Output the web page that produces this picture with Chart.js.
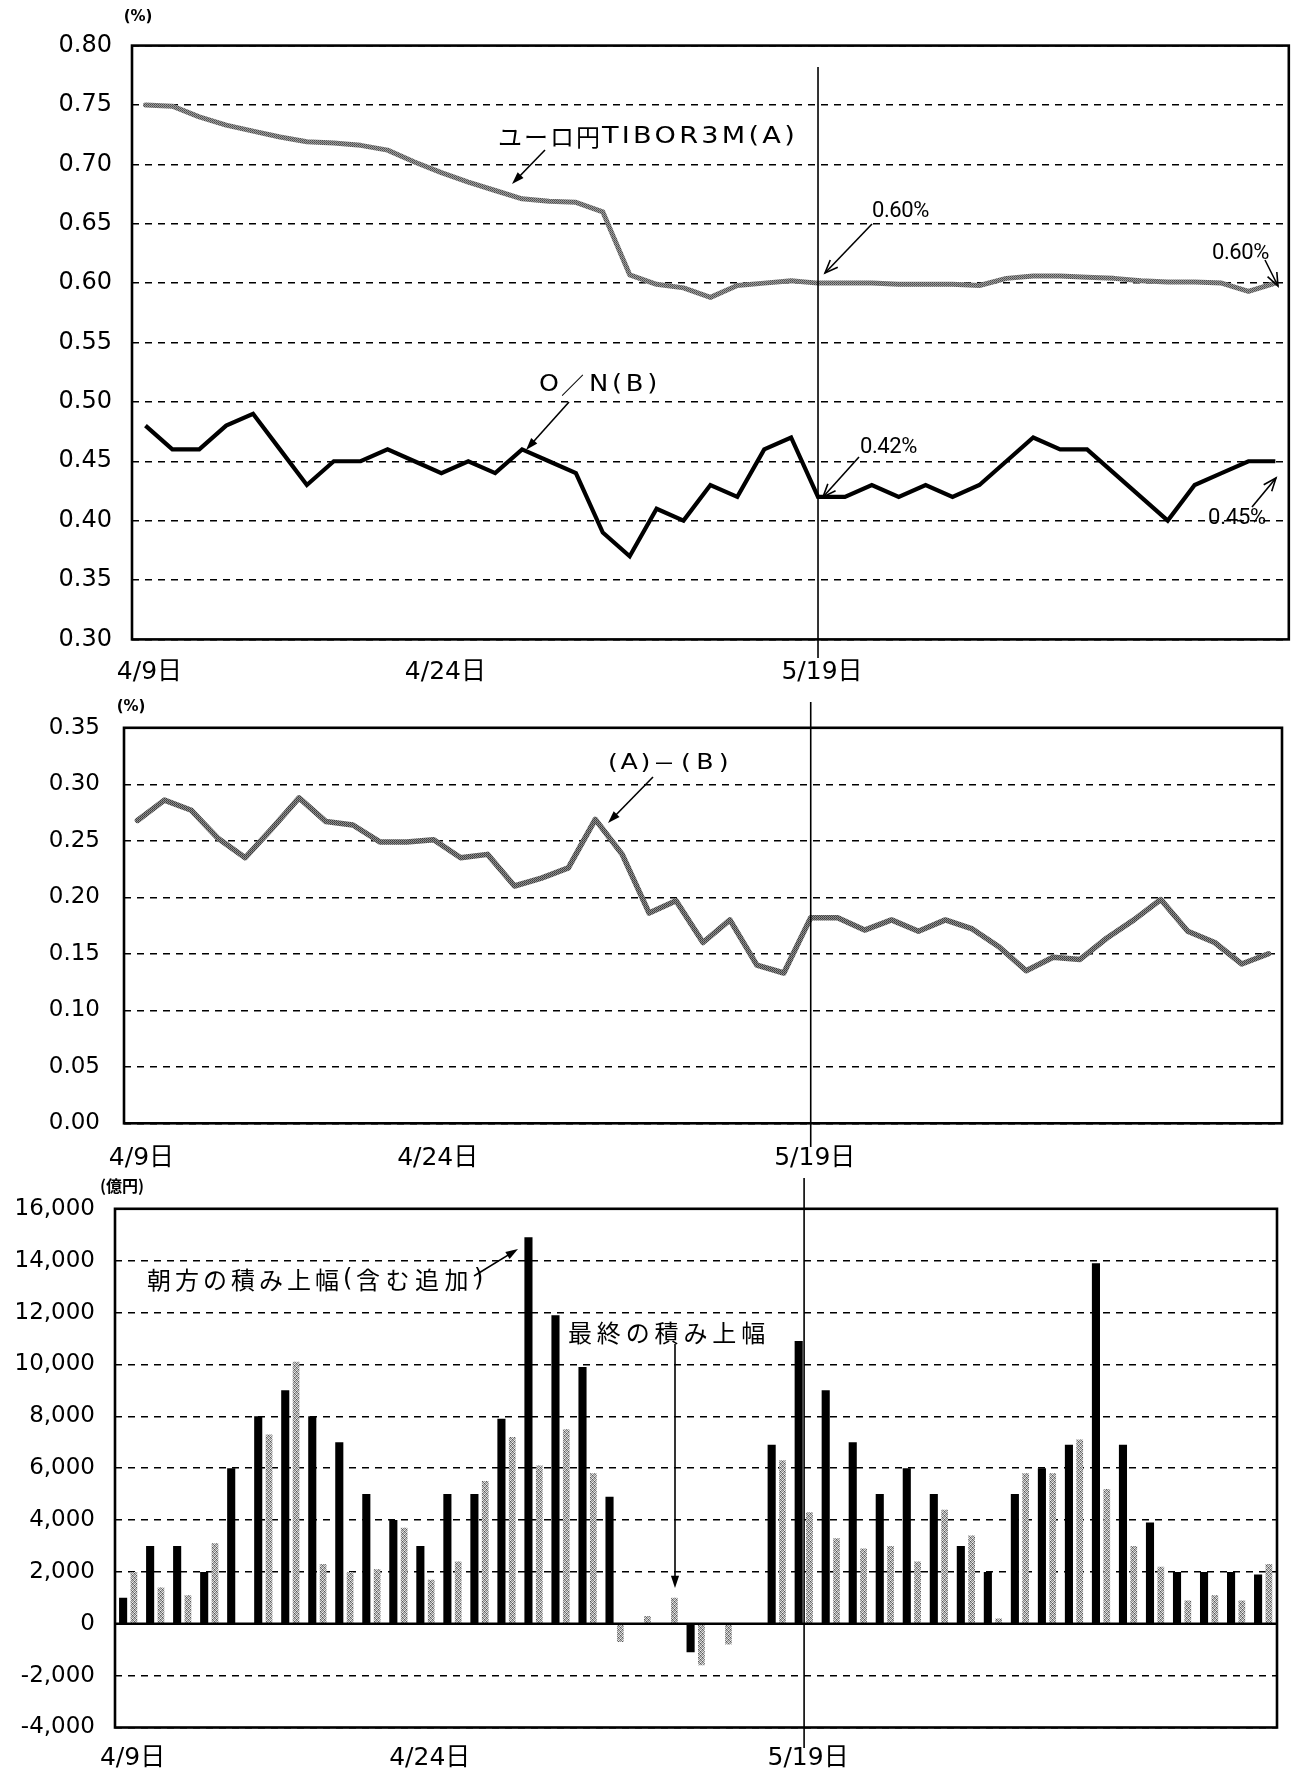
<!DOCTYPE html>
<html lang="ja">
<head>
<meta charset="utf-8">
<title>ユーロ円TIBOR・O/N・積み上幅</title>
<script src="https://cdn.jsdelivr.net/npm/chart.js@4.4.1/dist/chart.umd.min.js"></script>
<style>
  html, body { margin: 0; padding: 0; background: #fff; }
  body { width: 1293px; height: 1775px; position: relative; overflow: hidden; }
  canvas { position: absolute; left: 0; }
</style>
</head>
<body>
<canvas id="rates" width="1293" height="690" style="top:0px"></canvas>
<canvas id="spread" width="1293" height="485" style="top:690px"></canvas>
<canvas id="reserves" width="1293" height="600" style="top:1175px"></canvas>
<script>
// Business days on the horizontal axis
const days = ['4/9','4/10','4/13','4/14','4/15','4/16','4/17','4/20','4/21','4/22','4/23','4/24',
  '4/27','4/28','4/30','5/1','5/6','5/7','5/8','5/11','5/12','5/13','5/14','5/15','5/18','5/19',
  '5/20','5/21','5/22','5/25','5/26','5/27','5/28','5/29','6/1','6/2','6/3','6/4','6/5','6/8',
  '6/9','6/10','6/11'];
// Days that carry a tick label, and the day marked with a vertical rule
const labelledDays = ['4/9', '4/24', '5/19'];
const markedDay = '5/19';

// Euro-yen TIBOR 3M (A), %
const tibor3m = [0.750,0.749,0.740,0.733,0.728,0.723,0.719,0.718,0.716,0.712,0.702,0.693,
  0.685,0.678,0.671,0.669,0.668,0.660,0.607,0.599,0.596,0.588,0.598,0.600,0.602,0.600,
  0.600,0.600,0.599,0.599,0.599,0.598,0.604,0.606,0.606,0.605,0.604,0.602,0.601,0.601,
  0.600,0.593,0.600];
// Overnight call rate (B), %
const overnight = [0.48,0.46,0.46,0.48,0.49,0.46,0.43,0.45,0.45,0.46,0.45,0.44,
  0.45,0.44,0.46,0.45,0.44,0.39,0.37,0.41,0.40,0.43,0.42,0.46,0.47,0.42,
  0.42,0.43,0.42,0.43,0.42,0.43,0.45,0.47,0.46,0.46,0.44,0.42,0.40,0.43,
  0.44,0.45,0.45];
// (A)-(B), %
const spreadAB = [0.268,0.286,0.277,0.252,0.235,0.261,0.288,0.267,0.264,0.249,0.249,0.251,
  0.235,0.238,0.210,0.217,0.226,0.269,0.238,0.186,0.197,0.160,0.180,0.140,0.133,0.182,
  0.182,0.171,0.180,0.170,0.180,0.172,0.156,0.135,0.147,0.145,0.164,0.180,0.198,0.170,
  0.160,0.141,0.150];
// Reserve surplus, 100 million yen: morning (incl. additions) and final
const morningSurplus = [1000,3000,3000,2000,6000,8000,9000,8000,7000,5000,4000,3000,
  5000,5000,7900,14900,11900,9900,4900,0,0,-1100,0,0,6900,10900,
  9000,7000,5000,6000,5000,3000,2000,5000,6000,6900,13900,6900,3900,2000,
  2000,2000,1900];
const finalSurplus = [2000,1400,1100,3100,0,7300,10100,2300,2000,2100,3700,1700,
  2400,5500,7200,6100,7500,5800,-700,300,1000,-1600,-800,0,6300,4300,
  3300,2900,3000,2400,4400,3400,200,5800,5800,7100,5200,3000,2200,900,
  1100,900,2300];

const NUM_FONT = '"DejaVu Sans", "Noto Sans CJK JP", sans-serif';
const JP_FONT = '"Noto Sans CJK JP", sans-serif';
const LATIN_FONT = '"DejaVu Sans", sans-serif';
const PCT_FONT = 'Roboto, "Liberation Sans", sans-serif';

Chart.defaults.color = '#000';
Chart.defaults.font.family = NUM_FONT;
Chart.defaults.animation = false;

// Small ordered-dither tiles that give the grey marks their printed texture
function dither(cells, size) {
  const c = document.createElement('canvas');
  c.width = size; c.height = size;
  const g = c.getContext('2d');
  cells.forEach((col, i) => { g.fillStyle = col; g.fillRect(i % size, Math.floor(i / size), 1, 1); });
  return g.createPattern(c, 'repeat');
}
const barTone = dither(['#555','#ccc','#999','#ddd','#bbb','#777','#eee','#888',
                        '#999','#ddd','#555','#ccc','#eee','#888','#bbb','#777'], 4);
const tiborTone = dither(['#4a4a4a','#a0a0a0','#979797','#606060'], 2);
const spreadTone = dither(['#3a3a3a','#959595','#858585','#4c4c4c'], 2);

function xAxis(height, padding) {
  return {
    type: 'category',
    offset: true,
    grid: { display: false, drawTicks: false },
    border: { display: false },
    ticks: {
      autoSkip: false, maxRotation: 0, minRotation: 0, padding, labelOffset: 4,
      font: { size: 25 },
      callback(value, index) {
        const d = days[index];
        return labelledDays.includes(d) ? d + '日' : '';
      }
    },
    afterFit(s) { s.height = height; }
  };
}

function yAxis(min, max, step, width, padding, size, format, hideZero) {
  return {
    min, max,
    ticks: { stepSize: step, padding, font: { size }, callback: format },
    grid: {
      drawTicks: false, lineWidth: 1.4,
      color: ctx => (hideZero && ctx.tick && ctx.tick.value === 0) ? 'rgba(0,0,0,0)' : '#000'
    },
    border: { display: false, dash: [7, 6] },
    afterFit(s) { s.width = width; }
  };
}

function arrow(ctx, x1, y1, x2, y2, filled) {
  const a = Math.atan2(y2 - y1, x2 - x1);
  const len = filled ? 13 : 14, spread = filled ? 0.32 : 0.38;
  ctx.save();
  ctx.strokeStyle = '#000'; ctx.fillStyle = '#000'; ctx.lineWidth = 1.6;
  ctx.beginPath(); ctx.moveTo(x1, y1);
  ctx.lineTo(filled ? x2 - Math.cos(a) * 6 : x2, filled ? y2 - Math.sin(a) * 6 : y2);
  ctx.stroke();
  const lx = x2 - len * Math.cos(a - spread), ly = y2 - len * Math.sin(a - spread);
  const rx = x2 - len * Math.cos(a + spread), ry = y2 - len * Math.sin(a + spread);
  ctx.beginPath();
  if (filled) {
    ctx.moveTo(x2, y2); ctx.lineTo(lx, ly); ctx.lineTo(rx, ry); ctx.closePath(); ctx.fill();
  } else {
    ctx.moveTo(lx, ly); ctx.lineTo(x2, y2); ctx.lineTo(rx, ry); ctx.stroke();
  }
  ctx.restore();
}

// Text made of runs; each run has its own font, horizontal stretch and run length
function runs(ctx, parts, x, y) {
  ctx.save();
  ctx.fillStyle = '#000'; ctx.textAlign = 'left'; ctx.textBaseline = 'middle';
  let cx = x;
  parts.forEach(p => {
    const sx = p.stretch || 1;
    const n = [...p.text].length;
    ctx.font = p.font; ctx.letterSpacing = '0px';
    const natural = ctx.measureText(p.text).width * sx;
    const gap = n > 0 ? (p.width - natural) / n : 0;
    ctx.save();
    ctx.translate(cx, y);
    ctx.scale(sx, 1);
    ctx.letterSpacing = (gap / sx).toFixed(2) + 'px';
    ctx.fillText(p.text, 0, 0);
    ctx.restore();
    cx += p.width;
  });
  ctx.restore();
}

function plainText(ctx, text, x, y, font) {
  ctx.save();
  ctx.font = font; ctx.fillStyle = '#000';
  ctx.textAlign = 'center'; ctx.textBaseline = 'middle';
  ctx.fillText(text, x, y);
  ctx.restore();
}

// Frame, optional zero line, the marked-day rule and the chart's notes
function decor(opts) {
  return {
    id: 'decor',
    afterDatasetsDraw(chart) {
      const { ctx, chartArea: a, scales } = chart;
      ctx.save();
      if (opts.zeroLine) {
        const y0 = scales.y.getPixelForValue(0);
        ctx.strokeStyle = '#000'; ctx.lineWidth = 2.4;
        ctx.beginPath(); ctx.moveTo(a.left, y0); ctx.lineTo(a.right, y0); ctx.stroke();
      }
      ctx.strokeStyle = '#000'; ctx.lineWidth = 2.6;
      ctx.strokeRect(a.left, a.top, a.right - a.left, a.bottom - a.top);
      const xm = scales.x.getPixelForValue(days.indexOf(markedDay));
      ctx.lineWidth = 1.6;
      ctx.beginPath(); ctx.moveTo(xm, opts.rule[0]); ctx.lineTo(xm, opts.rule[1]); ctx.stroke();
      ctx.restore();
    },
    afterDraw(chart) { opts.notes(chart.ctx, chart); }
  };
}

// ---- Upper panel: TIBOR 3M and O/N ----
new Chart(document.getElementById('rates'), {
  type: 'line',
  data: {
    labels: days,
    datasets: [
      { data: tibor3m, borderColor: tiborTone, borderWidth: 5, pointRadius: 0, tension: 0,
        borderJoinStyle: 'round', borderCapStyle: 'round' },
      { data: overnight, borderColor: '#000', borderWidth: 4.2, pointRadius: 0, tension: 0,
        borderJoinStyle: 'miter' }
    ]
  },
  options: {
    responsive: false, devicePixelRatio: 1,
    layout: { padding: { top: 45.6, right: 4, bottom: 0, left: 0 } },
    plugins: { legend: { display: false }, tooltip: { enabled: false } },
    scales: {
      x: xAxis(50.6, 17.6),
      y: yAxis(0.30, 0.80, 0.05, 132, 20, 24, v => Number(v).toFixed(2), false)
    }
  },
  plugins: [decor({
    rule: [67, 658],
    notes(ctx) {
      plainText(ctx, '(%)', 138, 17, 'bold 15px ' + NUM_FONT);
      runs(ctx, [{ text: 'ユーロ円', font: '24px ' + JP_FONT, width: 104 },
                 { text: 'TIBOR3M(A)', font: '23px ' + LATIN_FONT, width: 196, stretch: 1.18 }], 498, 137);
      arrow(ctx, 545, 150, 512, 184, true);
      runs(ctx, [{ text: 'O', font: '23px ' + LATIN_FONT, width: 22, stretch: 1.1 },
                 { text: '／', font: '23px ' + JP_FONT, width: 28 },
                 { text: 'N(B)', font: '23px ' + LATIN_FONT, width: 72, stretch: 1.12 }], 539, 385);
      arrow(ctx, 569, 402, 526, 450, true);
      runs(ctx, [{ text: '0.60%', font: '22px ' + PCT_FONT, width: 57 }], 872, 211);
      arrow(ctx, 872, 224, 825, 273, false);
      runs(ctx, [{ text: '0.60%', font: '22px ' + PCT_FONT, width: 57 }], 1212, 253);
      arrow(ctx, 1265, 260, 1278, 286, false);
      runs(ctx, [{ text: '0.42%', font: '22px ' + PCT_FONT, width: 57 }], 860, 447);
      arrow(ctx, 859, 457, 823, 497, false);
      runs(ctx, [{ text: '0.45%', font: '22px ' + PCT_FONT, width: 58 }], 1208, 518);
      arrow(ctx, 1252, 507, 1276, 478, false);
    }
  })]
});

// ---- Middle panel: (A)-(B) ----
new Chart(document.getElementById('spread'), {
  type: 'line',
  data: {
    labels: days,
    datasets: [
      { data: spreadAB, borderColor: spreadTone, borderWidth: 5.5, pointRadius: 0, tension: 0,
        borderJoinStyle: 'round', borderCapStyle: 'round' }
    ]
  },
  options: {
    responsive: false, devicePixelRatio: 1,
    layout: { padding: { top: 36, right: 11, bottom: 0, left: 0 } },
    plugins: { legend: { display: false }, tooltip: { enabled: false } },
    scales: {
      x: xAxis(51.7, 19.7),
      y: yAxis(0, 0.35, 0.05, 124, 24, 23, v => Number(v).toFixed(2), false)
    }
  },
  plugins: [decor({
    rule: [12, 457],
    notes(ctx) {
      plainText(ctx, '(%)', 131, 17, 'bold 15px ' + NUM_FONT);
      runs(ctx, [{ text: '(A)', font: '22px ' + LATIN_FONT, width: 45, stretch: 1.15 },
                 { text: '－', font: '22px ' + JP_FONT, width: 28 },
                 { text: '(B)', font: '22px ' + LATIN_FONT, width: 53, stretch: 1.15 }], 608, 73);
      arrow(ctx, 653, 87, 608, 133, true);
    }
  })]
});

// ---- Lower panel: reserve surplus bars ----
new Chart(document.getElementById('reserves'), {
  type: 'bar',
  data: {
    labels: days,
    datasets: [
      { data: morningSurplus, backgroundColor: '#000', borderWidth: 0,
        categoryPercentage: 0.8, barPercentage: 0.75 },
      { data: finalSurplus, backgroundColor: barTone, borderWidth: 0,
        categoryPercentage: 0.8, barPercentage: 0.62 }
    ]
  },
  options: {
    responsive: false, devicePixelRatio: 1,
    layout: { padding: { top: 32.3, right: 16, bottom: 0, left: 0 } },
    plugins: { legend: { display: false }, tooltip: { enabled: false } },
    scales: {
      x: xAxis(47.5, 16),
      y: yAxis(-4000, 16000, 2000, 115, 20, 23, v => Number(v).toLocaleString('en-US'), true)
    }
  },
  plugins: [decor({
    zeroLine: true,
    rule: [3, 573],
    notes(ctx) {
      plainText(ctx, '(億円)', 122, 11, 'bold 16px ' + JP_FONT);
      runs(ctx, [{ text: '朝方の積み上幅', font: '24px ' + JP_FONT, width: 196 },
                 { text: '(', font: '24px ' + LATIN_FONT, width: 13 },
                 { text: '含む追加', font: '24px ' + JP_FONT, width: 118 },
                 { text: ')', font: '24px ' + LATIN_FONT, width: 14 }], 147, 105);
      arrow(ctx, 474, 101, 518, 74, true);
      runs(ctx, [{ text: '最終の積み上幅', font: '24px ' + JP_FONT, width: 202 }], 568, 158);
      arrow(ctx, 675, 169, 675, 413, true);
    }
  })]
});
</script>
</body>
</html>
